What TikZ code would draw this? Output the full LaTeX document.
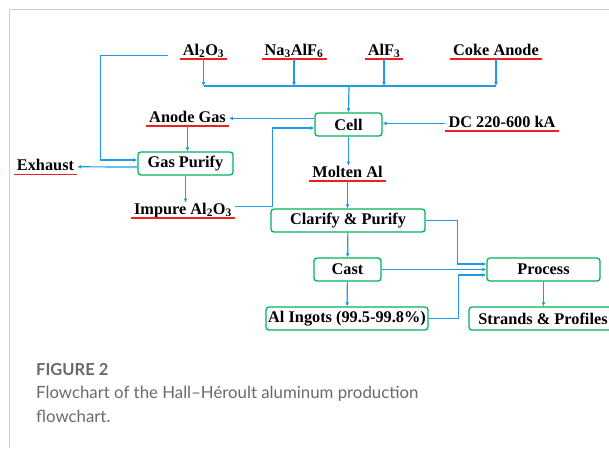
\documentclass[tikz,border=0pt]{standalone}
\usepackage{fontspec}
\setmainfont{Liberation Serif}
\newfontfamily\fuentepie{Lato}
\usetikzlibrary{arrows.meta,positioning,calc}
\usepackage{xcolor}
\definecolor{flechaazul}{RGB}{30,155,225}
\definecolor{bordecaja}{RGB}{0,180,90}
\definecolor{subrayado}{RGB}{240,30,30}
\definecolor{textopie}{RGB}{105,105,105}
\definecolor{marco}{RGB}{205,205,205}
\newcommand{\procbox}[3]{%
  \node[draw=bordecaja, line width=1.3pt, rounded corners=3pt,
        minimum width=#2, minimum height=23pt, inner sep=0pt,
        font=\fontsize{16.3}{18}\selectfont\bfseries, #3] (#1) }
\newcommand{\etiqueta}[2]{%
  \node[font=\fontsize{16.3}{18}\selectfont\bfseries, text height=11pt,
        text depth=3pt, inner xsep=3pt, inner ysep=0.5pt, anchor=south, #2] (#1) }

\begin{document}
\begin{tikzpicture}[x=1pt, y=-1pt,
  flecha/.style={draw=flechaazul, line width=1.2pt, -{Latex[length=4pt,width=4pt]}},
  linea/.style={draw=flechaazul, line width=1.2pt}]
\useasboundingbox (0,0) rectangle (609,448);
\draw[marco, line width=1pt] (9.5,448) -- (9.5,9.5) -- (609,9.5);

\etiqueta{alumina}{} at (203.5,59) {Al\textsubscript{2}O\textsubscript{3}};
\etiqueta{criolita}{} at (294,59) {Na\textsubscript{3}AlF\textsubscript{6}};
\etiqueta{fluoruro}{} at (384,59) {AlF\textsubscript{3}};
\etiqueta{coque}{} at (496,59) {Coke Anode};
\etiqueta{gasanodo}{} at (187.5,126) {Anode Gas};
\etiqueta{corriente}{} at (502,131) {DC 220-600 kA};
\etiqueta{escape}{} at (45.5,174.5) {Exhaust};
\etiqueta{fundido}{} at (347.5,181) {Molten Al};
\etiqueta{impura}{} at (183,218) {Impure Al\textsubscript{2}O\textsubscript{3}};

\procbox{cell}{67pt}{} at (348.5,124.5) {Cell};
\procbox{gaspur}{95pt}{} at (185.5,163.5) {Gas Purify};
\procbox{clarify}{154pt}{} at (348,220.5) {Clarify \& Purify};
\procbox{cast}{67pt}{} at (347.5,269.5) {Cast};
\procbox{ingots}{162pt}{} at (347,318.5) {Al Ingots (99.5-99.8\%)};
\procbox{process}{113pt}{} at (543.5,269.5) {Process};
\procbox{strands}{148pt}{} at (543,318.5) {Strands \& Profiles};

\foreach \n in {alumina,criolita,fluoruro,coque,gasanodo,corriente,escape,fundido,impura}
  \draw[subrayado, line width=1.4pt] (\n.south west) -- (\n.south east);

\coordinate (bus) at (349,86);
\foreach \n in {alumina,criolita,fluoruro,coque}
  \draw[flecha] (\n.south) -- (\n.south |- bus);
\draw[linea] (alumina.south |- bus) -- (coque.south |- bus);
\draw[flecha] (bus) -- (cell.north);
\draw[flecha] (corriente.west) -- (cell.east |- corriente.west);
\draw[flecha] (cell.west |- gasanodo.east) -- (gasanodo.east);
\draw[flecha] (gasanodo.south) -- (gasanodo.south |- gaspur.north);
\draw[flecha] ([xshift=-12pt,yshift=-4.5pt]alumina.west) -- ++(-67,0)
  |- ([yshift=3.5pt]gaspur.west);
\draw[flecha] (gaspur.west) ++(0,3.5) -- (escape.east);
\draw[flecha] (gaspur.south) -- (gaspur.south |- impura.north);
\draw[flecha] (impura.east) ++(0,-4) -| ([xshift=-42pt,yshift=-3.5pt]cell.west)
  -- ([yshift=-3.5pt]cell.west);
\draw[flecha] (cell.south) -- (cell.south |- fundido.north);
\draw[flecha] (fundido.south) -- (fundido.south |- clarify.north);
\draw[flecha] (clarify) -- (cast);
\draw[flecha] (cast) -- (ingots);
\draw[flecha] (process) -- (process |- strands.north);
\draw[flecha] (clarify.east) -- ++(32,0) |- ([yshift=5.5pt]process.west);
\draw[flecha] (cast.east) -- (process.west);
\draw[flecha] (ingots.east) -- ++(30,0) |- ([yshift=-5.5pt]process.west);

\node[anchor=base west, inner sep=0pt, text=textopie,
      font=\fuentepie\bfseries\fontsize{16.5}{24}\selectfont] (figura) at (36,375) {FIGURE 2};
\node[anchor=base west, inner sep=0pt, text=textopie, align=left,
      font=\fuentepie\fontsize{16.8}{24}\selectfont] (pie) at (36,422)
  {Flowchart of the Hall–Héroult aluminum production\\flowchart.};
\end{tikzpicture}
\end{document}
